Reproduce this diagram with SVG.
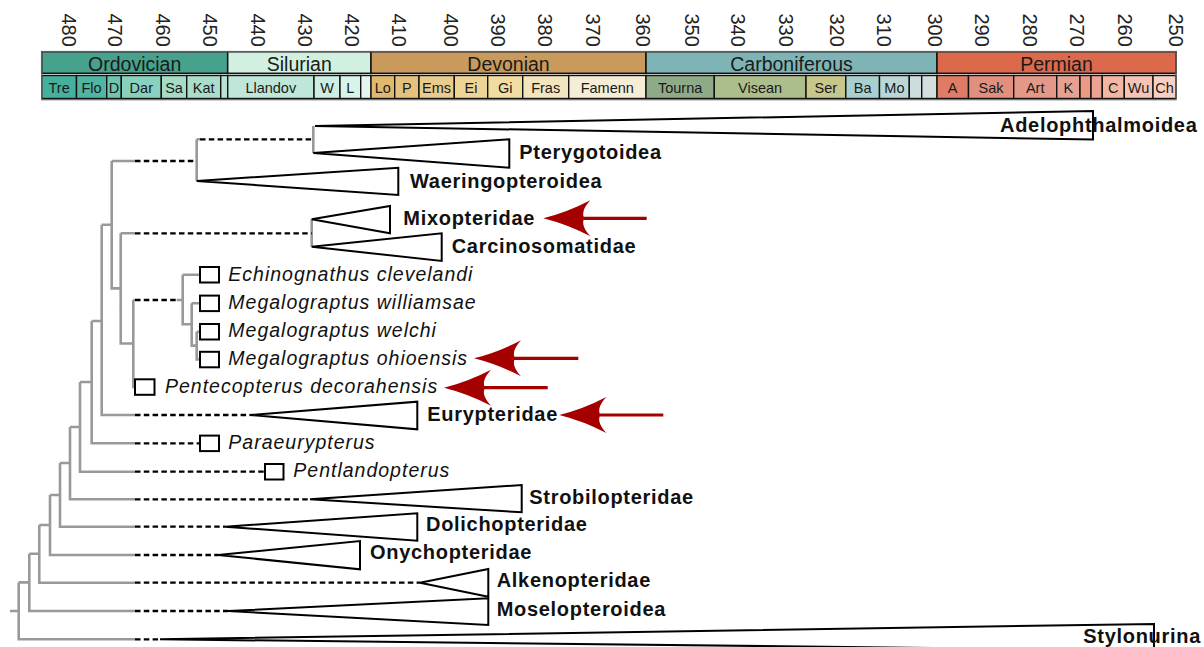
<svg xmlns="http://www.w3.org/2000/svg" width="1204" height="647" viewBox="0 0 1204 647">
<style>
.tick{font-family:"Liberation Sans",Arial,sans-serif;font-size:20px;fill:#222}
.per{stroke:#111;stroke-width:1.5}
.stg{stroke:#111;stroke-width:1.4}
.pl{font-family:"Liberation Sans",Arial,sans-serif;font-size:19.5px;fill:#1a1a1a;text-anchor:middle}
.sl{font-family:"Liberation Sans",Arial,sans-serif;font-size:14.5px;fill:#1a1a1a;text-anchor:middle}
.gray{fill:none;stroke:#999;stroke-width:2.6}
.dash{fill:none;stroke:#000;stroke-width:2.3;stroke-dasharray:5.5 3.3}
.tri{fill:#fff;stroke:#000;stroke-width:2;stroke-linejoin:miter}
.box{fill:#fff;stroke:#000;stroke-width:2}
.bold{font-family:"Liberation Sans",Arial,sans-serif;font-size:20px;font-weight:bold;letter-spacing:0.7px;fill:#111}
.ital{font-family:"Liberation Sans",Arial,sans-serif;font-size:19.5px;font-style:italic;letter-spacing:1px;fill:#111}
.shaft{stroke:#a50000;stroke-width:3.2;fill:none}
.head{fill:#a50000}
</style>
<defs>
<path id="ah" d="M0,0 Q24,-6 47,-18 Q37,-7 41,0 Q37,7 47,18 Q24,6 0,0 Z"/>
</defs>
<rect width="1204" height="647" fill="#fff"/>

<g id="timescale">
<g id="ticks">
<text class="tick" transform="translate(69,13.5) rotate(90)" dy="0.36em">480</text>
<text class="tick" transform="translate(115,13.5) rotate(90)" dy="0.36em">470</text>
<text class="tick" transform="translate(163,13.5) rotate(90)" dy="0.36em">460</text>
<text class="tick" transform="translate(210,13.5) rotate(90)" dy="0.36em">450</text>
<text class="tick" transform="translate(258,13.5) rotate(90)" dy="0.36em">440</text>
<text class="tick" transform="translate(305,13.5) rotate(90)" dy="0.36em">430</text>
<text class="tick" transform="translate(352,13.5) rotate(90)" dy="0.36em">420</text>
<text class="tick" transform="translate(399,13.5) rotate(90)" dy="0.36em">410</text>
<text class="tick" transform="translate(451,13.5) rotate(90)" dy="0.36em">400</text>
<text class="tick" transform="translate(498,13.5) rotate(90)" dy="0.36em">390</text>
<text class="tick" transform="translate(545,13.5) rotate(90)" dy="0.36em">380</text>
<text class="tick" transform="translate(593,13.5) rotate(90)" dy="0.36em">370</text>
<text class="tick" transform="translate(643,13.5) rotate(90)" dy="0.36em">360</text>
<text class="tick" transform="translate(692,13.5) rotate(90)" dy="0.36em">350</text>
<text class="tick" transform="translate(738,13.5) rotate(90)" dy="0.36em">340</text>
<text class="tick" transform="translate(786,13.5) rotate(90)" dy="0.36em">330</text>
<text class="tick" transform="translate(837,13.5) rotate(90)" dy="0.36em">320</text>
<text class="tick" transform="translate(884,13.5) rotate(90)" dy="0.36em">310</text>
<text class="tick" transform="translate(935,13.5) rotate(90)" dy="0.36em">300</text>
<text class="tick" transform="translate(982,13.5) rotate(90)" dy="0.36em">290</text>
<text class="tick" transform="translate(1030,13.5) rotate(90)" dy="0.36em">280</text>
<text class="tick" transform="translate(1077,13.5) rotate(90)" dy="0.36em">270</text>
<text class="tick" transform="translate(1125,13.5) rotate(90)" dy="0.36em">260</text>
<text class="tick" transform="translate(1176,13.5) rotate(90)" dy="0.36em">250</text>
</g>
<g id="periods">
<rect class="per" x="41.7" y="51.7" width="186" height="21.6" fill="#46a18d"/>
<rect class="per" x="227.7" y="51.7" width="143.3" height="21.6" fill="#d2f0e0"/>
<rect class="per" x="371" y="51.7" width="275" height="21.6" fill="#c99a5b"/>
<rect class="per" x="646" y="51.7" width="291" height="21.6" fill="#7eb4b6"/>
<rect class="per" x="937" y="51.7" width="239" height="21.6" fill="#dd694d"/>
<text class="pl" x="134.7" y="70.7">Ordovician</text>
<text class="pl" x="299.3" y="70.7">Silurian</text>
<text class="pl" x="508.5" y="70.7">Devonian</text>
<text class="pl" x="791.5" y="70.7">Carboniferous</text>
<text class="pl" x="1056.5" y="70.7">Permian</text>
</g>
<g id="stages">
<rect class="stg" x="41.7" y="75.5" width="34.8" height="23" fill="#45b09b"/>
<rect class="stg" x="76.5" y="75.5" width="30.2" height="23" fill="#50b6a1"/>
<rect class="stg" x="106.7" y="75.5" width="14.6" height="23" fill="#70c5b1"/>
<rect class="stg" x="121.3" y="75.5" width="40" height="23" fill="#88d1bf"/>
<rect class="stg" x="161.3" y="75.5" width="25.4" height="23" fill="#a5dcc6"/>
<rect class="stg" x="186.7" y="75.5" width="34" height="23" fill="#aadeca"/>
<rect class="stg" x="220.7" y="75.5" width="7" height="23" fill="#b8e3d2"/>
<rect class="stg" x="227.7" y="75.5" width="86.3" height="23" fill="#bee7da"/>
<rect class="stg" x="314" y="75.5" width="26" height="23" fill="#cdeee2"/>
<rect class="stg" x="340" y="75.5" width="20.7" height="23" fill="#d8f3e8"/>
<rect class="stg" x="360.7" y="75.5" width="10.3" height="23" fill="#e6f6ee"/>
<rect class="stg" x="371" y="75.5" width="23.7" height="23" fill="#e0b96f"/>
<rect class="stg" x="394.7" y="75.5" width="24.3" height="23" fill="#e5c17e"/>
<rect class="stg" x="419" y="75.5" width="35.3" height="23" fill="#eacc8c"/>
<rect class="stg" x="454.3" y="75.5" width="33.4" height="23" fill="#eed596"/>
<rect class="stg" x="487.7" y="75.5" width="35" height="23" fill="#f1dda2"/>
<rect class="stg" x="522.7" y="75.5" width="46" height="23" fill="#f3e6bf"/>
<rect class="stg" x="568.7" y="75.5" width="77.3" height="23" fill="#f5edd5"/>
<rect class="stg" x="646" y="75.5" width="68.3" height="23" fill="#8faa86"/>
<rect class="stg" x="714.3" y="75.5" width="91.7" height="23" fill="#acbe8c"/>
<rect class="stg" x="806" y="75.5" width="39.8" height="23" fill="#c7c78b"/>
<rect class="stg" x="845.8" y="75.5" width="33.7" height="23" fill="#a9cfd1"/>
<rect class="stg" x="879.5" y="75.5" width="29.8" height="23" fill="#bad6d6"/>
<rect class="stg" x="909.3" y="75.5" width="12.4" height="23" fill="#cddcdc"/>
<rect class="stg" x="921.7" y="75.5" width="15.3" height="23" fill="#d3dede"/>
<rect class="stg" x="937" y="75.5" width="31.5" height="23" fill="#de7c65"/>
<rect class="stg" x="968.5" y="75.5" width="45.2" height="23" fill="#e18f7f"/>
<rect class="stg" x="1013.7" y="75.5" width="43" height="23" fill="#e49888"/>
<rect class="stg" x="1056.7" y="75.5" width="23.3" height="23" fill="#e6a193"/>
<rect class="stg" x="1080" y="75.5" width="11" height="23" fill="#ec9a85"/>
<rect class="stg" x="1091" y="75.5" width="11.3" height="23" fill="#eda390"/>
<rect class="stg" x="1102.3" y="75.5" width="22" height="23" fill="#f2b6a3"/>
<rect class="stg" x="1124.3" y="75.5" width="28.7" height="23" fill="#f5c4b5"/>
<rect class="stg" x="1153" y="75.5" width="23" height="23" fill="#f7d0c3"/>
<text class="sl" x="59.1" y="92.7">Tre</text>
<text class="sl" x="91.6" y="92.7">Flo</text>
<text class="sl" x="114" y="92.7">D</text>
<text class="sl" x="141.3" y="92.7">Dar</text>
<text class="sl" x="174" y="92.7">Sa</text>
<text class="sl" x="203.7" y="92.7">Kat</text>
<text class="sl" x="270.8" y="92.7">Llandov</text>
<text class="sl" x="327" y="92.7">W</text>
<text class="sl" x="350.3" y="92.7">L</text>
<text class="sl" x="382.8" y="92.7">Lo</text>
<text class="sl" x="406.8" y="92.7">P</text>
<text class="sl" x="436.6" y="92.7">Ems</text>
<text class="sl" x="471" y="92.7">Ei</text>
<text class="sl" x="505.2" y="92.7">Gi</text>
<text class="sl" x="545.7" y="92.7">Fras</text>
<text class="sl" x="607.3" y="92.7">Famenn</text>
<text class="sl" x="680.1" y="92.7">Tourna</text>
<text class="sl" x="760.1" y="92.7">Visean</text>
<text class="sl" x="825.9" y="92.7">Ser</text>
<text class="sl" x="862.6" y="92.7">Ba</text>
<text class="sl" x="894.4" y="92.7">Mo</text>
<text class="sl" x="952.7" y="92.7">A</text>
<text class="sl" x="991.1" y="92.7">Sak</text>
<text class="sl" x="1035.2" y="92.7">Art</text>
<text class="sl" x="1068.3" y="92.7">K</text>
<text class="sl" x="1113.3" y="92.7">C</text>
<text class="sl" x="1138.6" y="92.7">Wu</text>
<text class="sl" x="1164.5" y="92.7">Ch</text>
</g>
<rect x="41.7" y="51.7" width="1134.3" height="48" fill="none" stroke="#666" stroke-width="1.2"/>
</g>

<g id="connectors">
<path class="gray" d="M10,611 H18.7 M18.7,582.4 V639.3 H135 M18.7,582.4 H29.3 M29.3,553.8 V611 H135 M29.3,553.8 H39.3 M39.3,525 V582.7 H135 M39.3,525 H50 M50,495 V555 H135 M50,495 H60 M60,463 V526.7 H135 M60,463 H70 M70,427 V499.3 H135 M70,427 H80 M80,382 V471.7 H135 M80,382 H91.7 M91.7,321 V443.3 H135 M91.7,321 H101.7 M101.7,224.7 V415 H135 M101.7,224.7 H111.7 M111.7,161 V288.4 H120.7 M111.7,161 H135 M120.7,233.3 V343.5 H133.3 M120.7,233.3 H135 M133.3,300 V387 H135 M133.3,300 H135 M176.7,300 H182.7 M182.7,274.7 V324.2 H191.7 M182.7,274.7 H200 M191.7,303.3 V345.6 H196.7 M191.7,303.3 H200 M196.7,331.7 V359.5 H200 M196.7,331.7 H200 M196.7,139.3 V181 M196.7,139.3 H200 M313.3,126 V153 M311.7,219.3 V246.7"/>
<path class="dash" d="M135,161 H196.7 M200,139.3 H313.3 M135,233.3 H311.7 M135,300 H176.7 M135,415 H250 M135,443.3 H200 M135,471.7 H265 M135,499.3 H310 M135,526.7 H225 M135,555 H218 M135,582.7 H420 M135,611 H228 M135,639.3 H160"/>
</g>

<g id="adelophthalmoidea">
<polygon class="tri" points="315,126 1093,111 1093,139.5"/>
<text class="bold" x="1000" y="131.7">Adelophthalmoidea</text>
</g>
<g id="pterygotoidea">
<polygon class="tri" points="313.3,153 509.3,139.3 509.3,167.7"/>
<text class="bold" x="519.3" y="159.3">Pterygotoidea</text>
</g>
<g id="waeringopteroidea">
<polygon class="tri" points="196.7,181 398.3,167.7 398.3,195"/>
<text class="bold" x="410" y="188.3">Waeringopteroidea</text>
</g>
<g id="mixopteridae">
<polygon class="tri" points="311.7,219.3 390,206 390,233.3"/>
<text class="bold" x="403.3" y="225">Mixopteridae</text>
</g>
<g id="carcinosomatidae">
<polygon class="tri" points="311.7,246.7 441.7,233.3 441.7,261"/>
<text class="bold" x="451.7" y="253.3">Carcinosomatidae</text>
</g>
<g id="echinognathus">
<rect class="box" x="200" y="267" width="19" height="15.5"/>
<text class="ital" x="228.3" y="280.5">Echinognathus clevelandi</text>
</g>
<g id="m-williamsae">
<rect class="box" x="200" y="295.6" width="19" height="15.5"/>
<text class="ital" x="228.3" y="309">Megalograptus williamsae</text>
</g>
<g id="m-welchi">
<rect class="box" x="200" y="324" width="19" height="15.5"/>
<text class="ital" x="228.3" y="337.3">Megalograptus welchi</text>
</g>
<g id="m-ohioensis">
<rect class="box" x="200" y="351.8" width="19" height="15.5"/>
<text class="ital" x="228.3" y="365.3">Megalograptus ohioensis</text>
</g>
<g id="pentecopterus">
<rect class="box" x="135" y="379.3" width="19.5" height="15.5"/>
<text class="ital" x="165" y="393">Pentecopterus decorahensis</text>
</g>
<g id="eurypteridae">
<polygon class="tri" points="250,415 417.3,401.7 417.3,429.3"/>
<text class="bold" x="427.3" y="420.5">Eurypteridae</text>
</g>
<g id="paraeurypterus">
<rect class="box" x="200" y="435.6" width="19" height="15.5"/>
<text class="ital" x="228.3" y="449">Paraeurypterus</text>
</g>
<g id="pentlandopterus">
<rect class="box" x="265" y="464" width="18.5" height="15.5"/>
<text class="ital" x="293.3" y="477.3">Pentlandopterus</text>
</g>
<g id="strobilopteridae">
<polygon class="tri" points="310,499.3 521.7,485 521.7,512.3"/>
<text class="bold" x="529.3" y="503.5">Strobilopteridae</text>
</g>
<g id="dolichopteridae">
<polygon class="tri" points="225,526.7 417.3,513.3 417.3,540.7"/>
<text class="bold" x="426" y="530.5">Dolichopteridae</text>
</g>
<g id="onychopteridae">
<polygon class="tri" points="218,555 360,541 360,569.3"/>
<text class="bold" x="370" y="558.5">Onychopteridae</text>
</g>
<g id="alkenopteridae">
<polygon class="tri" points="420,582.7 488.3,569 488.3,596.7"/>
<text class="bold" x="496.7" y="587">Alkenopteridae</text>
</g>
<g id="moselopteroidea">
<polygon class="tri" points="228,611 488.3,598.3 488.3,625"/>
<text class="bold" x="496.7" y="615.5">Moselopteroidea</text>
</g>
<g id="stylonurina">
<polygon class="tri" points="160,639.3 1154,624 1154,650.5"/>
<text class="bold" x="1083.3" y="642.7">Stylonurina</text>
</g>

<g id="arrows">
<line class="shaft" x1="583" y1="218.3" x2="646.7" y2="218.3"/>
<use href="#ah" class="head" transform="translate(543.3,218.3)"/>
<line class="shaft" x1="514" y1="358.3" x2="578.3" y2="358.3"/>
<use href="#ah" class="head" transform="translate(474,358.3)"/>
<line class="shaft" x1="484" y1="387.7" x2="547.7" y2="387.7"/>
<use href="#ah" class="head" transform="translate(444,387.7)"/>
<line class="shaft" x1="599" y1="415" x2="663.3" y2="415"/>
<use href="#ah" class="head" transform="translate(559.3,415)"/>
</g>
</svg>
